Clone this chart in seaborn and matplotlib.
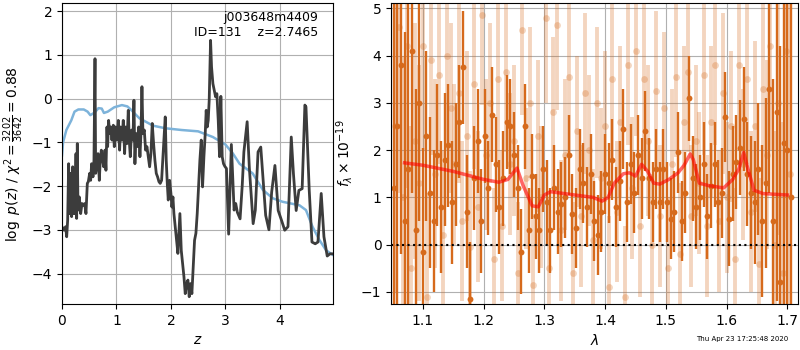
import matplotlib
matplotlib.use("Agg")
import matplotlib.pyplot as plt
import seaborn as sns
import numpy as np

# ---------------- p(z) panel data ----------------
z_grid = [0.000, 0.037, 0.067, 0.086, 0.104, 0.122, 0.135, 0.153, 0.165, 0.177,
          0.196, 0.208, 0.226, 0.239, 0.257, 0.269, 0.281, 0.294, 0.318, 0.343,
          0.367, 0.391, 0.416, 0.440, 0.465, 0.483, 0.508, 0.526, 0.544, 0.569,
          0.587, 0.606, 0.618, 0.636, 0.661, 0.685, 0.703, 0.722, 0.746, 0.765,
          0.789, 0.807, 0.826, 0.838, 0.856, 0.875, 0.893, 0.917, 0.942, 0.960,
          0.985, 1.009, 1.034, 1.058, 1.076, 1.101, 1.125, 1.150, 1.168, 1.193,
          1.217, 1.235, 1.254, 1.278, 1.303, 1.321, 1.339, 1.358, 1.382, 1.407,
          1.431, 1.450, 1.468, 1.486, 1.511, 1.535, 1.560, 1.584, 1.609, 1.633,
          1.657, 1.682, 1.706, 1.731, 1.755, 1.780, 1.804, 1.829, 1.853, 1.878,
          1.896, 1.914, 1.933, 1.951, 1.976, 2.000, 2.018, 2.037, 2.055, 2.080,
          2.104, 2.128, 2.147, 2.165, 2.190, 2.214, 2.239, 2.263, 2.287, 2.312,
          2.336, 2.361, 2.385, 2.410, 2.434, 2.459, 2.483, 2.508, 2.532, 2.557,
          2.581, 2.606, 2.630, 2.648, 2.667, 2.685, 2.703, 2.728, 2.746, 2.771,
          2.795, 2.820, 2.844, 2.869, 2.893, 2.917, 2.942, 2.966, 2.990, 3.020,
          3.060, 3.110, 3.160, 3.190, 3.220, 3.270, 3.310, 3.340, 3.400, 3.440,
          3.510, 3.550, 3.600, 3.650, 3.700, 3.740, 3.800, 3.850, 3.910, 3.970,
          4.030, 4.090, 4.150, 4.210, 4.250, 4.300, 4.350, 4.410, 4.460, 4.480,
          4.540, 4.590, 4.650, 4.700, 4.760, 4.810, 4.870, 4.920, 4.980]
log_pz = [-2.93, -3.01, -2.93, -3.16, -2.78, -1.49, -2.63, -2.32, -1.71, -2.70,
          -1.56, -2.63, -2.32, -2.63, -1.26, -2.74, -1.03, -2.55, -2.25, -2.63,
          -2.40, -2.44, -2.40, -2.63, -1.94, -1.90, -1.71, -1.87, -1.49, -1.79,
          -1.41, 0.91, -1.71, -1.56, -1.26, -1.87, -1.41, -1.18, -1.41, -1.56,
          -1.18, -1.64, -0.65, -1.10, -0.50, -0.80, -0.65, -0.95, -0.61, -1.10,
          -0.65, -0.95, -0.50, -1.18, -0.65, -0.95, -0.50, -1.26, -0.65, -1.03,
          -0.27, -0.95, -1.33, -0.72, -0.95, -0.04, -1.49, -0.80, -1.10, -0.65,
          -1.33, -0.80, 0.27, -0.80, -0.72, -1.18, -1.10, -1.33, -1.56, -1.26,
          -0.57, -1.03, -1.41, -1.71, -1.79, -1.90, -1.94, -1.87, -1.33, -0.80,
          -0.42, -1.41, -1.94, -2.32, -1.87, -2.17, -2.48, -2.25, -2.63, -2.93,
          -3.24, -3.54, -3.08, -2.63, -3.47, -3.77, -4.07, -4.46, -4.23, -4.15,
          -4.53, -4.23, -4.46, -3.85, -3.24, -3.08, -2.63, -2.02, -1.41, -0.95,
          -2.02, -1.33, -0.80, -0.27, -0.65, -0.50, -0.04, 1.33, 0.72, 0.34,
          0.19, 0.04, 0.11, -0.50, -1.33, 0.05, -1.33, -1.49, -1.55, -1.60,
          -3.10, -1.05, -2.55, -2.40, -2.60, -2.75, -1.98, -1.22, -0.53, -1.58,
          -2.86, -2.55, -1.22, -1.11, -1.98, -2.67, -3.00, -2.14, -1.53, -2.56,
          -2.78, -3.01, -2.93, -0.88, -1.72, -2.56, -2.10, -2.06, -0.15, -0.19,
          -2.10, -3.28, -3.32, -3.28, -2.17, -3.16, -3.60, -3.55, -3.55]

z_prior = [0.00, 0.02, 0.08, 0.17, 0.23, 0.30, 0.40, 0.47, 0.52, 0.60,
           0.67, 0.73, 0.77, 0.84, 0.96, 1.10, 1.20, 1.27, 1.42, 1.67,
           1.90, 2.20, 2.50, 2.77, 3.00, 3.14, 3.26, 3.50, 3.69, 3.87,
           4.05, 4.36, 4.48, 4.60, 4.73, 4.85, 4.98]
log_prior = [-1.30, -1.00, -0.72, -0.50, -0.30, -0.25, -0.25, -0.30, -0.38, -0.32,
             -0.22, -0.23, -0.33, -0.30, -0.20, -0.15, -0.18, -0.26, -0.45, -0.62,
             -0.68, -0.72, -0.75, -0.88, -1.05, -1.26, -1.49, -1.71, -2.09, -2.28,
             -2.36, -2.44, -2.55, -2.93, -3.24, -3.47, -3.58]

# ---------------- spectrum panel data ----------------
wave_dark = [1.052, 1.058, 1.064, 1.070, 1.076, 1.082, 1.088, 1.094, 1.100, 1.106,
             1.112, 1.118, 1.124, 1.130, 1.136, 1.142, 1.148, 1.154, 1.160, 1.166,
             1.172, 1.178, 1.184, 1.190, 1.196, 1.202, 1.208, 1.214, 1.220, 1.226,
             1.232, 1.238, 1.244, 1.250, 1.256, 1.262, 1.268, 1.274, 1.280, 1.286,
             1.292, 1.298, 1.304, 1.310, 1.316, 1.322, 1.328, 1.334, 1.340, 1.346,
             1.352, 1.358, 1.364, 1.370, 1.376, 1.382, 1.388, 1.394, 1.400, 1.406,
             1.412, 1.418, 1.424, 1.430, 1.436, 1.442, 1.448, 1.454, 1.460, 1.466,
             1.472, 1.478, 1.484, 1.490, 1.496, 1.502, 1.508, 1.514, 1.520, 1.526,
             1.532, 1.538, 1.544, 1.550, 1.556, 1.562, 1.568, 1.574, 1.580, 1.586,
             1.592, 1.598, 1.604, 1.610, 1.616, 1.622, 1.628, 1.634, 1.640, 1.646,
             1.652, 1.658, 1.664, 1.670, 1.676, 1.682, 1.688, 1.694, 1.700, 1.706]
flux_dark = [1.2, 2.5, 3.8, 0.5, 1.6, 4.1, 0.3, 3.0, -0.15, 2.3,
             1.1, 0.5, 1.9, 0.8, 1.8, 2.1, 0.9, 1.7, 2.6, 3.75,
             0.7, -1.15, 1.4, 2.2, 0.5, 2.3, 1.2, 2.75, 1.7, 0.8,
             1.4, 2.6, 2.5, 1.9, 1.2, -0.15, 2.5, 0.3, 1.45, 0.6,
             0.3, 1.6, 0.9, 0.3, 1.2, 0.7, 0.85, 1.0, 1.9, 0.65,
             0.35, 1.6, 1.3, 0.8, 1.5, 0.5, 0.2, 0.7, 1.5, 1.3,
             1.8, 0.8, 1.35, 2.45, 0.9, 1.7, 1.1, 1.9, 1.4, 2.4,
             1.4, 0.9, 1.6, 0.9, 1.6, 0.9, 0.55, 0.7, 1.95, 0.5,
             1.1, 3.1, 1.4, 0.8, 1.0, 1.7, 0.6, 1.25, 1.7, 0.9,
             1.1, 2.7, 0.55, 1.5, 1.75, 2.05, 2.65, 1.5, 1.1, 0.9,
             1.6, 0.5, 1.3, 3.3, 0.5, 2.8, -0.8, 2.15, 2.0, 1.0]
err_dark = [6.0, 5.0, 4.0, 4.0, 3.5, 3.0, 3.0, 2.5, 2.2, 1.8,
            1.6, 1.5, 1.5, 1.4, 1.4, 1.3, 1.3, 1.3, 1.2, 1.2,
            1.2, 1.2, 1.1, 1.1, 1.1, 1.0, 1.0, 1.0, 1.0, 1.0,
            1.0, 1.0, 1.0, 0.9, 0.9, 0.9, 0.9, 0.9, 0.9, 0.9,
            0.9, 0.9, 0.9, 0.9, 0.9, 0.9, 0.9, 0.85, 0.85, 0.85,
            0.85, 0.85, 0.85, 0.85, 0.85, 0.85, 0.85, 0.85, 0.85, 0.85,
            0.85, 0.85, 0.85, 0.85, 0.85, 0.85, 0.85, 0.85, 0.85, 0.85,
            0.85, 0.85, 0.85, 0.85, 0.85, 0.85, 0.85, 0.85, 0.85, 0.85,
            0.85, 0.9, 0.9, 0.9, 0.9, 0.9, 0.9, 0.9, 0.9, 0.9,
            0.95, 0.95, 1.0, 1.0, 1.0, 1.0, 1.1, 1.1, 1.2, 1.3,
            1.4, 1.6, 1.8, 2.2, 3.0, 4.0, 5.0, 6.0, 7.0, 8.0]

wave_light = [1.055, 1.061, 1.068, 1.074, 1.081, 1.087, 1.094, 1.100, 1.107, 1.113,
              1.120, 1.126, 1.133, 1.139, 1.146, 1.152, 1.159, 1.165, 1.172, 1.178,
              1.185, 1.191, 1.198, 1.204, 1.211, 1.217, 1.224, 1.230, 1.237, 1.243,
              1.250, 1.256, 1.263, 1.269, 1.276, 1.282, 1.289, 1.295, 1.302, 1.308,
              1.315, 1.321, 1.328, 1.334, 1.341, 1.347, 1.354, 1.360, 1.367, 1.373,
              1.380, 1.386, 1.393, 1.399, 1.406, 1.412, 1.419, 1.425, 1.432, 1.438,
              1.445, 1.451, 1.458, 1.464, 1.471, 1.477, 1.484, 1.490, 1.497, 1.503,
              1.510, 1.516, 1.523, 1.529, 1.536, 1.542, 1.549, 1.555, 1.562, 1.568,
              1.575, 1.581, 1.588, 1.594, 1.601, 1.607, 1.614, 1.620, 1.627, 1.633,
              1.640, 1.646, 1.653, 1.659, 1.666, 1.672, 1.679, 1.685, 1.692, 1.698,
              1.705]
flux_light = [2.5, 4.6, 1.0, 4.2, -0.5, 2.2, 1.3, 4.2, -1.1, 3.9,
              1.5, 3.6, 0.2, 4.0, 2.9, 1.7, 3.2, 0.5, 2.3, -0.05,
              3.4, 0.8, 4.85, 1.9, 3.0, -0.3, 3.5, 0.4, 3.65, 1.7,
              2.2, -0.6, 4.55, 1.4, 3.0, -0.85, 2.3, 1.0, 4.8, -0.5,
              2.8, 4.65, 0.3, 1.9, 3.55, -0.6, 2.4, 0.6, 3.2, 2.0,
              0.1, 3.0, 1.4, 2.5, -0.9, 3.5, 0.7, 2.6, -1.1, 3.8,
              1.2, 4.1, 0.4, 3.5, 2.2, 0.0, 3.25, 0.6, 2.9, -0.5,
              1.7, 3.55, -0.2, 2.6, 3.65, 0.6, 2.2, 1.3, 3.6, 0.4,
              2.6, 3.8, 0.5, 3.2, 1.0, 2.5, -0.3, 3.8, 1.7, 3.5,
              0.7, 2.5, -0.4, 3.3, 1.9, 4.2, 0.0, 3.0, -0.6, 4.1,
              1.5]
err_light = [3.5, 3.5, 3.0, 3.0, 3.0, 2.5, 2.5, 2.2, 2.2, 2.0,
             2.0, 1.9, 1.8, 2.0, 1.8, 1.7, 1.9, 1.7, 1.8, 1.6,
             1.8, 1.6, 1.9, 1.6, 1.7, 1.5, 1.8, 1.6, 1.7, 1.5,
             1.6, 1.5, 1.8, 1.5, 1.6, 1.5, 1.6, 1.5, 1.8, 1.5,
             1.6, 1.8, 1.5, 1.6, 1.7, 1.5, 1.6, 1.5, 1.7, 1.6,
             1.5, 1.6, 1.5, 1.6, 1.5, 1.7, 1.5, 1.6, 1.5, 1.7,
             1.5, 1.8, 1.5, 1.7, 1.6, 1.5, 1.7, 1.5, 1.6, 1.5,
             1.6, 1.7, 1.5, 1.6, 1.7, 1.5, 1.6, 1.5, 1.7, 1.5,
             1.6, 1.7, 1.5, 1.7, 1.6, 1.6, 1.5, 1.8, 1.6, 1.8,
             1.7, 1.8, 1.8, 2.0, 2.0, 2.2, 2.4, 2.8, 3.2, 3.8,
             4.5]

wave_model = [1.070, 1.100, 1.150, 1.200, 1.225, 1.240, 1.255, 1.265, 1.280, 1.290,
              1.300, 1.310, 1.350, 1.380, 1.395, 1.405, 1.415, 1.430, 1.440, 1.450,
              1.460, 1.470, 1.480, 1.490, 1.505, 1.520, 1.530, 1.540, 1.545, 1.555,
              1.570, 1.595, 1.610, 1.620, 1.628, 1.635, 1.645, 1.660, 1.700]
flux_model = [1.73, 1.68, 1.55, 1.38, 1.32, 1.38, 1.62, 1.25, 0.82, 0.80,
              1.05, 1.12, 1.05, 1.00, 0.92, 1.00, 1.30, 1.50, 1.52, 1.45,
              1.70, 1.55, 1.30, 1.28, 1.38, 1.52, 1.68, 1.92, 1.80, 1.30,
              1.25, 1.20, 1.38, 1.60, 1.95, 1.60, 1.15, 1.08, 1.05]

root_name = "j003648m4409"
obj_id = 131
z_best = 2.7465
timestamp = "Thu Apr 23 17:25:48 2020"

# ---------------- figure ----------------
fig = plt.figure(figsize=(8, 3.5), dpi=100)
ax1 = fig.add_axes([0.0775, 0.131, 0.339, 0.860])
ax2 = fig.add_axes([0.489, 0.131, 0.509, 0.860])

sns.lineplot(x=z_prior, y=log_prior, ax=ax1, color="#7db3da", lw=1.8,
             sort=False, estimator=None)
sns.lineplot(x=z_grid, y=log_pz, ax=ax1, color="#3c3c3c", lw=2.0,
             sort=False, estimator=None)
ax1.set_xlim(0, 4.98)
ax1.set_ylim(-4.70, 2.18)
ax1.set_xticks([0, 1, 2, 3, 4])
ax1.set_yticks([-4, -3, -2, -1, 0, 1, 2])
ax1.grid(True, color="#b0b0b0", lw=0.8)
ax1.set_axisbelow(True)
ax1.set_xlabel(r"$z$")
ax1.set_ylabel(r"$\log\ p(z)$ / $\chi^2=\frac{3202}{3642}=0.88$")
ax1.text(0.945, 0.975, f"{root_name}\nID={obj_id}    z={z_best:.4f}",
         transform=ax1.transAxes, ha="right", va="top", fontsize=9)

dark = "#d66a1c"
ax2.errorbar(wave_light, flux_light, yerr=err_light, fmt="none",
             ecolor=dark, elinewidth=2.8, alpha=0.28, zorder=1)
sns.scatterplot(x=wave_light, y=flux_light, ax=ax2, color=dark, alpha=0.28,
                s=24, linewidth=0, zorder=1)
ax2.errorbar(wave_dark, flux_dark, yerr=err_dark, fmt="none",
             ecolor=dark, elinewidth=1.7, alpha=1.0, zorder=2)
sns.scatterplot(x=wave_dark, y=flux_dark, ax=ax2, color=dark, alpha=1.0,
                s=18, linewidth=0, zorder=2)
sns.lineplot(x=wave_model, y=flux_model, ax=ax2, color="red", lw=2.5,
             alpha=0.6, sort=False, estimator=None, zorder=3)
ax2.axhline(0, color="k", ls=":", lw=1.5, zorder=4)
ax2.set_xlim(1.048, 1.718)
ax2.set_ylim(-1.26, 5.11)
ax2.set_xticks([1.1, 1.2, 1.3, 1.4, 1.5, 1.6, 1.7])
ax2.set_yticks([-1, 0, 1, 2, 3, 4, 5])
ax2.grid(True, color="#b0b0b0", lw=0.8)
ax2.set_axisbelow(True)
ax2.set_xlabel(r"$\lambda$")
ax2.set_ylabel(r"$f_\lambda\times 10^{-19}$")

fig.text(0.985, 0.031, timestamp, ha="right", va="center", fontsize=5)

fig.savefig("out.png", dpi=100)
